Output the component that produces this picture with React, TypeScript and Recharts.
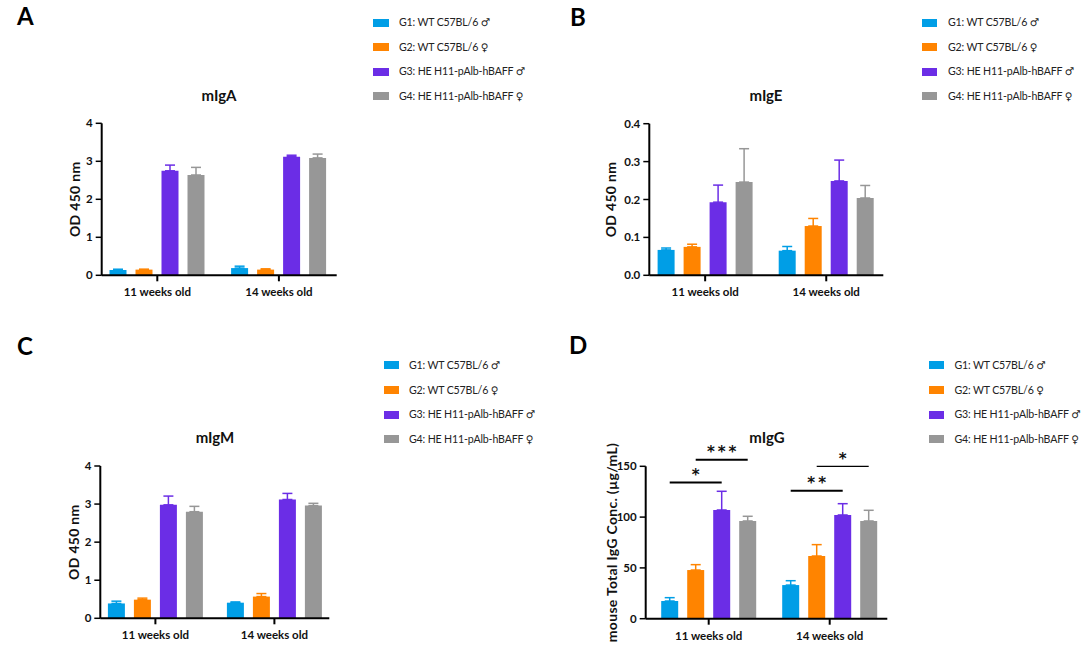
import React from "react";
import { BarChart, Bar, XAxis, YAxis, ErrorBar, ReferenceLine } from "recharts";

const groups = [
  "G1: WT C57BL/6 ♂",
  "G2: WT C57BL/6 ♀",
  "G3: HE H11-pAlb-hBAFF ♂",
  "G4: HE H11-pAlb-hBAFF ♀",
];
const groupColors = ["#009EE6", "#FF8400", "#6B2DE6", "#979797"];
const ages = ["11 weeks old", "14 weeks old"];

// rows = age, columns = G1..G4 (mean and upper SD)
const igaMean = [[0.14, 0.15, 2.75, 2.64], [0.19, 0.15, 3.12, 3.09]];
const igaSd = [[0.02, 0.01, 0.15, 0.2], [0.05, 0.02, 0.04, 0.1]];
const igeMean = [[0.067, 0.075, 0.193, 0.246], [0.065, 0.13, 0.249, 0.204]];
const igeSd = [[0.005, 0.007, 0.045, 0.088], [0.011, 0.02, 0.055, 0.033]];
const igmMean = [[0.39, 0.49, 2.98, 2.8], [0.41, 0.57, 3.12, 2.96]];
const igmSd = [[0.06, 0.04, 0.23, 0.14], [0.02, 0.08, 0.16, 0.06]];
const iggMean = [[17.4, 47.9, 107, 96.2], [33.1, 61.7, 102.1, 96.2]];
const iggSd = [[3.3, 5.3, 18.4, 4.6], [4.3, 11.2, 11.1, 10.5]];

const odTicks = [0, 1, 2, 3, 4];
const igeTicks = [0, 0.1, 0.2, 0.3, 0.4];
const iggTicks = [0, 50, 100, 150];

// significance brackets on mIgG
const sigAge = ["11 weeks old", "11 weeks old", "14 weeks old", "14 weeks old"];
const sigFrom = [0, 1, 0, 1];
const sigTo = [2, 3, 2, 3];
const sigLevel = [134, 156.5, 126, 150];
const sigStars = ["*", "***", "**", "*"];
const sigWidth = [2, 2, 2, 1.2];

const FONT = "Lato, 'Noto Sans', sans-serif";
const SYMBOL_FONT = "'DejaVu Sans', sans-serif";
const BAR = 17;
const GAP = 9;

const buildRows = (mean: number[][], sd: number[][]) =>
  ages.map((age, i) => {
    const row: any = { age };
    groups.forEach((_, g) => {
      row[`g${g}`] = mean[i][g];
      row[`e${g}`] = [0, sd[i][g]];
    });
    return row;
  });

const SigBracket = (props: any) => {
  const { x1, y1, k } = props;
  if (x1 == null || y1 == null) return null;
  const pitch = BAR + GAP;
  const xa = x1 + (sigFrom[k] - 1.5) * pitch;
  const xb = x1 + (sigTo[k] - 1.5) * pitch;
  return (
    <g>
      <line x1={xa} y1={y1} x2={xb} y2={y1} stroke="#000" strokeWidth={sigWidth[k]} />
      <text
        x={(xa + xb) / 2 + 1.5}
        y={y1 - 2.5}
        textAnchor="middle"
        fontSize={15}
        fontWeight={700}
        fontFamily={SYMBOL_FONT}
        letterSpacing={3}
        fill="#111"
      >
        {sigStars[k]}
      </text>
    </g>
  );
};

interface PanelProps {
  box: { x: number; y: number; w: number; h: number };
  plot: { left: number; right: number; top: number; bottom: number };
  yW: number;
  padL: number;
  padR: number;
  mean: number[][];
  sd: number[][];
  ticks: number[];
  yLabel: string;
  decimals?: number;
  sig?: boolean;
}

function Panel({ box, plot, yW, padL, padR, mean, sd, ticks, yLabel, decimals = 0, sig }: PanelProps) {
  const data = buildRows(mean, sd);
  const xH = 30;
  return (
    <div style={{ position: "absolute", left: box.x, top: box.y }}>
      <BarChart
        width={box.w}
        height={box.h}
        data={data}
        barGap={GAP}
        margin={{
          left: plot.left - box.x - yW,
          right: box.x + box.w - plot.right,
          top: plot.top - box.y,
          bottom: box.y + box.h - plot.bottom - xH,
        }}
      >
        <XAxis
          dataKey="age"
          height={xH}
          padding={{ left: padL, right: padR }}
          axisLine={{ stroke: "#000", strokeWidth: 2 }}
          tickLine={{ stroke: "#000", strokeWidth: 2 }}
          tickSize={6}
          tickMargin={7}
          tick={{ fontSize: 11.5, fontWeight: 700, fill: "#111", fontFamily: FONT }}
        />
        <YAxis
          width={yW}
          domain={[ticks[0], ticks[ticks.length - 1]]}
          ticks={ticks}
          interval={0}
          tickFormatter={(v: number) => v.toFixed(decimals)}
          axisLine={{ stroke: "#000", strokeWidth: 2 }}
          tickLine={{ stroke: "#000", strokeWidth: 1.5 }}
          tickSize={6}
          tickMargin={3}
          tick={{ fontSize: 11.5, fontWeight: 700, fill: "#111", fontFamily: FONT }}
          label={{
            value: yLabel,
            angle: -90,
            position: "center",
            style: {
              fontSize: 14,
              fontWeight: 700,
              fill: "#111",
              fontFamily: FONT,
              letterSpacing: 0.3,
            },
          }}
        />
        {groups.map((name, g) => (
          <Bar
            key={name}
            dataKey={`g${g}`}
            fill={groupColors[g]}
            barSize={BAR}
            isAnimationActive={false}
          >
            <ErrorBar
              dataKey={`e${g}`}
              direction="y"
              width={5}
              stroke={groupColors[g]}
              strokeWidth={1.5}
            />
          </Bar>
        ))}
        {sig &&
          sigAge.map((age, k) => (
            <ReferenceLine
              key={k}
              segment={[
                { x: age, y: sigLevel[k] },
                { x: age, y: sigLevel[k] },
              ]}
              ifOverflow="visible"
              shape={(p: any) => <SigBracket {...p} k={k} />}
            />
          ))}
      </BarChart>
    </div>
  );
}

function Legend({ swatchX, textX, rowY }: { swatchX: number; textX: number; rowY: number[] }) {
  return (
    <>
      {groups.map((name, g) => {
        const label = name.slice(0, -2);
        const sex = name.slice(-1);
        return (
          <React.Fragment key={name}>
            <div
              style={{
                position: "absolute",
                left: swatchX,
                top: rowY[g] - 4,
                width: 15.5,
                height: 8,
                background: groupColors[g],
              }}
            />
            <div
              style={{
                position: "absolute",
                left: textX,
                top: rowY[g] - 7.5,
                fontSize: 10.6,
                letterSpacing: -0.15,
                lineHeight: "14px",
                fontFamily: FONT,
                color: "#222",
                whiteSpace: "nowrap",
              }}
            >
              {label}{" "}
              <span style={{ fontFamily: SYMBOL_FONT, fontSize: 10.5 }}>{sex}</span>
            </div>
          </React.Fragment>
        );
      })}
    </>
  );
}

function Title({ cx, cy, text }: { cx: number; cy: number; text: string }) {
  return (
    <div
      style={{
        position: "absolute",
        left: cx - 100,
        width: 200,
        top: cy - 10,
        textAlign: "center",
        fontSize: 15,
        lineHeight: "18px",
        fontWeight: 700,
        fontFamily: FONT,
        color: "#111",
      }}
    >
      {text}
    </div>
  );
}

function Letter({ x, y, text }: { x: number; y: number; text: string }) {
  return (
    <div
      style={{
        position: "absolute",
        left: x,
        top: y,
        fontSize: 24,
        lineHeight: "29px",
        fontWeight: 700,
        fontFamily: FONT,
        color: "#000",
      }}
    >
      {text}
    </div>
  );
}

export default function App() {
  return (
    <div
      style={{
        position: "absolute",
        left: 0,
        top: 0,
        width: 1092,
        height: 649,
        background: "#fff",
        overflow: "hidden",
      }}
    >
      <Letter x={17} y={0.5} text="A" />
      <Letter x={570} y={1.5} text="B" />
      <Letter x={17} y={330.5} text="C" />
      <Letter x={569} y={330} text="D" />

      <Title cx={219} cy={95.5} text="mIgA" />
      <Title cx={766} cy={95.5} text="mIgE" />
      <Title cx={215} cy={438} text="mIgM" />
      <Title cx={767} cy={438} text="mIgG" />

      <Legend swatchX={373} textX={399} rowY={[22.5, 47, 71.5, 96]} />
      <Legend swatchX={921.5} textX={948} rowY={[22.5, 47, 71.5, 96]} />
      <Legend swatchX={383.5} textX={409} rowY={[365, 390, 414.7, 439.3]} />
      <Legend swatchX={928.5} textX={954.5} rowY={[365, 390, 414.7, 439.3]} />

      <Panel
        box={{ x: 0, y: 0, w: 346, h: 320 }}
        plot={{ left: 101.7, right: 336.7, top: 123.3, bottom: 275.3 }}
        yW={53}
        padL={-5.2}
        padR={-3}
        mean={igaMean}
        sd={igaSd}
        ticks={odTicks}
        yLabel="OD 450 nm"
      />
      <Panel
        box={{ x: 546, y: 0, w: 346, h: 320 }}
        plot={{ left: 649.3, right: 883.3, top: 123.7, bottom: 275.3 }}
        yW={76}
        padL={-4.7}
        padR={-3.5}
        mean={igeMean}
        sd={igeSd}
        ticks={igeTicks}
        yLabel="OD 450 nm"
        decimals={1}
      />
      <Panel
        box={{ x: 0, y: 330, w: 346, h: 319 }}
        plot={{ left: 100.3, right: 329.3, top: 466, bottom: 618.3 }}
        yW={52.6}
        padL={-4.4}
        padR={-4.6}
        mean={igmMean}
        sd={igmSd}
        ticks={odTicks}
        yLabel="OD 450 nm"
      />
      <Panel
        box={{ x: 546, y: 330, w: 346, h: 319 }}
        plot={{ left: 645.7, right: 887.3, top: 466.3, bottom: 618.7 }}
        yW={66.8}
        padL={2.5}
        padR={-2.9}
        mean={iggMean}
        sd={iggSd}
        ticks={iggTicks}
        yLabel="mouse Total IgG Conc. (µg/mL)"
        sig
      />
    </div>
  );
}
